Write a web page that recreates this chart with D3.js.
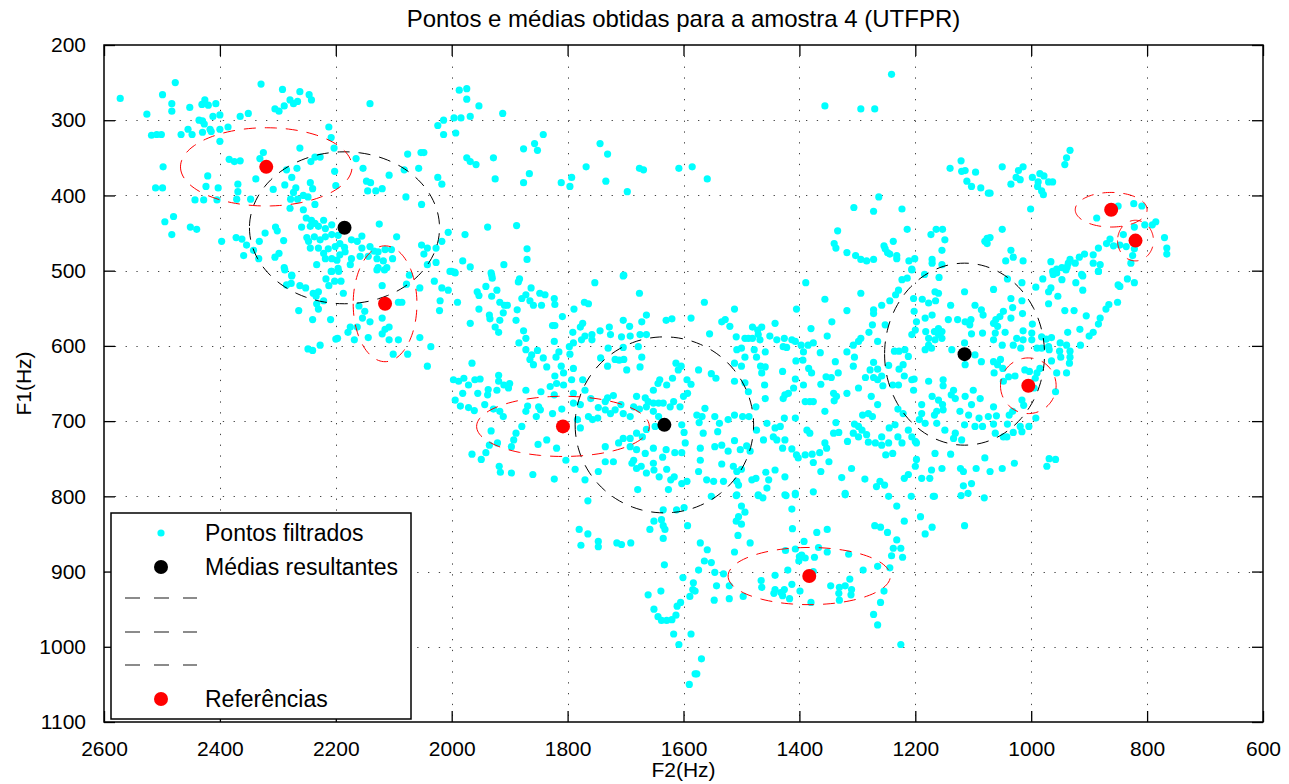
<!DOCTYPE html>
<html lang="pt">
<head>
<meta charset="UTF-8">
<title>Pontos e médias obtidas para a amostra 4 (UTFPR)</title>
<script src="https://d3js.org/d3.v7.min.js"></script>
<style>
  body { margin: 0; background: #fff; }
  text { font-family: "Liberation Sans", Arial, Helvetica, sans-serif; fill: #000; }
</style>
</head>
<body>
<div id="chart"></div>
<script>
// F2 / F1 em Hz
const pontos = [
  [2572,271],[2477,250],[2499,266],[2483,278],[2483,288],[2526,292],[2452,283],[2426,273],[2431,279],[2420,280],
  [2407,278],[2412,295],[2400,293],[2365,295],[2351,291],[2329,252],[2292,259],[2262,262],[2279,273],[2273,278],
  [2266,275],[2246,266],[2242,273],[2305,285],[2298,288],[2289,281],[2141,278],[2518,320],[2509,319],[2501,319],
  [2467,319],[2455,312],[2448,319],[2436,300],[2430,301],[2427,305],[2430,316],[2417,312],[2415,315],[2400,312],
  [2386,309],[2400,328],[2212,309],[2208,323],[2203,337],[2498,362],[2511,390],[2499,390],[2421,374],[2424,388],
  [2403,390],[2384,352],[2375,355],[2365,354],[2331,351],[2325,343],[2338,378],[2369,385],[2369,395],[2371,405],
  [2405,406],[2428,406],[2443,406],[2347,405],[2308,392],[2285,366],[2267,364],[2276,376],[2288,386],[2262,337],
  [2236,349],[2227,349],[2243,355],[2202,368],[2200,387],[2244,383],[2240,391],[2269,390],[2273,396],[2278,405],
  [2266,405],[2256,400],[2248,402],[2236,412],[2279,417],[2256,419],[2251,430],[2242,433],[2236,437],[2221,433],
  [2259,442],[2244,441],[2230,441],[2218,444],[2207,439],[2165,351],[2153,364],[2147,381],[2140,383],[2108,373],
  [2145,394],[2131,394],[2120,391],[2125,438],[2495,435],[2480,428],[2483,452],[2451,442],[2440,445],[2397,461],
  [2372,456],[2362,458],[2354,466],[2342,473],[2359,480],[2332,461],[2322,450],[2304,442],[2301,447],[2290,460],
  [2298,477],[2305,482],[2333,484],[2289,496],[2276,506],[2250,456],[2244,470],[2247,461],[2237,455],[2227,459],
  [2218,455],[2207,452],[2196,453],[2230,470],[2221,477],[2213,471],[2201,468],[2193,464],[2185,469],[2173,459],
  [2163,461],[2155,454],[2155,470],[2141,468],[2134,474],[2127,475],[2115,472],[2104,472],[2095,455],[2233,492],
  [2218,484],[2207,484],[2198,486],[2193,479],[2184,475],[2173,484],[2158,481],[2144,481],[2129,484],[2118,487],
  [2102,484],[2207,501],[2196,497],[2175,492],[2127,496],[2112,496],
  [1987,260],[1974,258],[1974,272],[1953,281],[1912,291],[1996,297],[1984,297],[1968,295],[2014,300],[2024,307],
  [2014,319],[1993,317],[2076,345],[2053,343],[2048,343],[2057,364],[2082,366],[1974,350],[1968,355],[1958,359],
  [1928,350],[1925,378],[1876,338],[1857,331],[1852,340],[1842,319],[1866,371],[1876,383],[2024,376],[2017,385],
  [2079,402],[2052,412],[1811,383],[1793,376],[1796,388],[1768,362],[1744,331],[1731,345],[1734,381],[1697,395],
  [1676,364],[1669,366],[1608,364],[1585,362],[2006,449],[1977,452],[1938,442],[1888,440],[2017,461],[2052,466],
  [2042,470],[2027,470],[2048,478],[2027,489],[2042,492],[1981,487],[1968,495],[1910,492],[1870,471],[1870,485],
  [2003,501],[1995,502],[1932,503],[1703,506],
  [1241,239],[1356,281],[1294,285],[1270,285],[1559,378],[1140,364],[1121,354],[1120,368],[1114,367],[1096,369],
  [1111,381],[1103,388],[1087,390],[1074,397],[1263,402],[1306,416],[1272,421],[1223,418],[1334,447],[1340,464],
  [1337,470],[1318,476],[1303,480],[1294,485],[1284,487],[1272,485],[1254,467],[1252,471],[1248,476],[1244,478],
  [1238,461],[1232,480],[1232,484],[1214,445],[1211,487],[1201,484],[1206,498],[1173,452],[1164,445],[1153,445],
  [1149,459],[1154,473],[1171,485],[1171,490],[1154,492],[1080,461],[1076,457],[1076,464],
  [933,340],[939,350],[942,359],[1050,362],[1014,362],[1022,367],[1026,376],[1019,379],[1035,385],[998,376],
  [985,371],[978,374],[988,382],[989,388],[982,394],[979,399],[970,382],[963,382],[1071,397],[1001,418],
  [1050,445],[850,414],[823,411],[809,414],[887,430],[822,442],[804,439],[791,439],[785,435],[770,456],
  [766,470],[766,478],[841,452],[864,458],[870,464],[858,467],[847,466],[836,468],[822,471],[825,480],
  [828,490],[884,470],[893,479],[908,478],[917,482],[933,485],[924,490],[936,490],[938,495],[893,490],
  [881,492],[884,501],[947,496],[956,498],[963,501],[966,488],[913,505],[1035,473],[1031,482],[1044,487],
  [1014,487],[1071,456],
  [2288,499],[2276,507],[2277,517],[2285,519],[2262,520],[2252,523],[2239,530],[2230,528],[2234,534],[2233,544],
  [2221,540],[2230,551],[2264,553],[2240,565],[2209,565],[2217,511],[2212,520],[2202,514],[2191,514],[2208,501],
  [2195,501],[2187,530],[2160,547],[2150,554],[2154,563],[2141,568],[2175,575],[2163,575],[2179,582],[2197,590],
  [2200,591],[2168,592],[2144,589],[2120,520],[2120,563],[2115,578],[2108,575],[2120,584],[2108,592],[2092,592],
  [2092,542],[2101,611],[2248,604],[2240,606],[2227,599],[2129,499],[2116,499],
  [2073,506],[2078,518],[2055,523],[2030,514],[2017,523],[2006,526],[2000,501],[1994,503],[2020,540],[2021,553],
  [1990,542],[1968,570],[2086,542],[2055,589],[2076,611],[2036,601],[2042,627],[1956,528],[1953,533],[1941,521],
  [1931,506],[1930,510],[1922,526],[1931,534],[1917,542],[1909,546],[1904,546],[1911,556],[1935,559],[1934,564],
  [1917,566],[1953,551],[1925,575],[1919,582],[1887,552],[1885,515],[1883,511],[1879,537],[1872,532],[1863,523],
  [1865,540],[1859,546],[1848,530],[1839,532],[1845,546],[1823,537],[1822,545],[1809,561],[1826,573],[1822,573],
  [1889,566],[1876,580],[1872,590],[1884,596],[1872,605],[1862,612],[1852,606],[1842,616],[1865,618],[1859,625],
  [1836,628],[1823,594],[1815,608],[1820,615],[1811,627],[1807,636],[1822,640],[1796,611],[1789,551],[1771,542],
  [1764,544],[1774,570],[1753,516],[1704,507],[1676,530],[1664,559],[1672,568],[1704,566],[1693,574],[1675,585],
  [1664,585],[1630,566],[1620,564],[1587,563],[1791,582],[1778,575],[1770,587],[1758,585],[1776,592],[1790,596],
  [1758,592],[1744,580],[1728,575],[1726,585],[1743,616],[1730,603],[1707,588],[1692,587],[1704,602],[1678,601],
  [1718,618],[1703,618],[1731,627],[1698,632],[1711,619],[1672,615],[1675,628],[1797,601],[1790,630],[1774,645],
  [1793,645],[1997,645],[1988,647],[1979,643],[1971,652],[1960,645],[1951,644],[1965,623],[1919,639],[1919,647],
  [1910,652],[1900,650],[1902,656],[1937,658],[1938,665],[1922,659],[1955,663],[1981,663],[1994,672],[1985,680],
  [1971,682],[1961,686],[1943,678],[1928,684],[1917,687],[1911,694],[1872,659],[1846,661],[1869,680],[1850,681],
  [1847,685],[1872,687],[1854,694],[1830,654],[1819,650],[1807,652],[1823,665],[1826,690],[1810,684],[1790,663],
  [1790,676],[1778,678],[1783,698],[1778,709],[1770,659],[1764,694],[1757,698],[1748,696],[1760,670],[1747,682],
  [1735,674],[1731,669],[1721,666],[1735,685],[1726,690],[1718,685],[1704,690],[1692,694],[1686,681],[1676,684],
  [1708,678],[1681,667],[1666,669],[1661,674],[1652,659],[1644,650],[1641,645],[1629,652],[1619,643],[1613,623],
  [1609,632],[1604,627],[1594,645],[1587,651],[1652,676],[1664,681],[1643,676],[1635,676],[1623,681],[1617,674],
  [1606,681],[1600,667],[1593,663],[1652,687],[1643,694],[1649,707],[1638,707],[1603,705],[1599,715],[1597,729],
  [1603,742],[1615,742],[1630,738],[1636,748],[1652,736],[1666,743],[1671,721],[1664,711],[1681,716],[1692,723],
  [1704,723],[1712,729],[1692,734],[1681,738],[1686,752],[1681,763],[1689,756],[1673,760],[1664,769],[1652,756],
  [1651,765],[1642,774],[1629,764],[1622,778],[1616,774],[1626,791],[1603,783],[1594,780],[1679,791],[1735,734],
  [1735,754],[1721,754],[1747,767],[1770,778],[1787,764],[1823,777],[1860,771],[1897,769],[1916,768],[1918,760],
  [1949,751],[1965,744],[1941,742],[1935,732],[1921,729],[1932,713],[1897,734],[1893,725],[1889,716],[1879,707],
  [1851,731],[1836,725],[1819,736],[1803,752],
  [1206,499],[1389,516],[1356,538],[1564,542],[1512,551],[1405,551],[1318,553],[1294,530],[1258,546],[1244,540],
  [1234,532],[1229,526],[1223,512],[1214,510],[1184,505],[1159,509],[1534,568],[1528,565],[1520,574],[1555,584],
  [1442,570],[1380,577],[1344,568],[1272,552],[1272,557],[1274,572],[1280,582],[1252,572],[1265,594],[1294,590],
  [1298,594],[1307,599],[1481,575],[1472,579],[1465,575],[1509,588],[1494,590],[1488,590],[1471,585],[1468,592],
  [1481,590],[1451,587],[1439,592],[1426,590],[1413,592],[1407,594],[1397,599],[1385,599],[1376,596],[1352,587],
  [1508,605],[1500,603],[1494,615],[1478,605],[1474,615],[1459,608],[1428,601],[1422,602],[1393,608],[1394,619],
  [1364,609],[1574,632],[1552,637],[1544,643],[1512,623],[1500,627],[1512,647],[1467,627],[1459,628],[1465,636],
  [1429,634],[1406,620],[1407,644],[1410,656],[1384,630],[1379,636],[1393,652],[1460,652],[1494,649],[1488,661],
  [1338,621],[1333,636],[1345,642],[1354,641],[1363,651],[1318,608],[1305,615],[1307,627],[1298,656],[1286,642],
  [1278,632],[1272,622],[1265,631],[1272,642],[1265,645],[1258,640],[1246,626],[1236,607],[1228,607],[1218,605],
  [1212,614],[1221,625],[1228,631],[1219,640],[1206,645],[1202,644],[1203,659],[1229,652],[1239,652],[1256,653],
  [1276,667],[1265,678],[1281,690],[1291,692],[1274,694],[1305,704],[1298,707],[1292,712],[1307,716],[1298,721],
  [1284,718],[1281,728],[1269,729],[1258,721],[1258,732],[1246,729],[1245,709],[1235,705],[1230,684],[1221,690],
  [1230,721],[1223,729],[1212,712],[1206,721],[1198,729],[1251,745],[1239,743],[1317,727],[1337,702],[1341,716],
  [1332,715],[1356,729],[1353,736],[1349,754],[1365,742],[1378,744],[1390,745],[1405,745],[1402,749],[1413,737],
  [1425,725],[1429,736],[1439,725],[1445,721],[1433,707],[1426,696],[1407,696],[1387,712],[1382,716],[1390,674],
  [1382,674],[1376,674],[1356,687],[1340,673],[1336,667],[1341,663],[1318,663],[1425,665],[1428,670],[1419,663],
  [1459,670],[1475,681],[1498,694],[1487,694],[1512,692],[1523,698],[1546,694],[1563,683],[1568,694],[1577,692],
  [1573,702],[1566,716],[1538,703],[1541,714],[1512,726],[1546,734],[1534,732],[1502,738],[1491,733],[1485,740],
  [1474,712],[1462,725],[1456,703],[1442,709],[1571,736],[1571,752],[1574,767],[1534,757],[1523,740],[1514,760],
  [1508,767],[1500,764],[1560,778],[1548,780],[1531,780],[1508,780],[1505,785],[1482,778],[1475,776],[1458,768],
  [1453,778],[1442,765],[1425,774],[1376,755],[1363,767],[1327,775],[1310,763],[1287,777],[1261,780],[1253,785],
  [1219,776],[1212,771],[1200,760],[1198,751],[1189,776],[1175,776],[1172,765],[1166,743],[1154,763],[1139,744],
  [1122,763],[1117,767],[1095,763],[1080,749],[1117,786],[1103,783],[1109,796],[1169,800],[1246,800],[1267,787],
  [1321,796],[1376,794],[1407,796],[1425,798],[1456,789],[1471,798],[1508,798],
  [1203,537],[1202,554],[1198,568],[1200,579],[1206,585],[1188,538],[1177,543],[1166,528],[1160,530],[1165,540],
  [1171,559],[1183,563],[1182,581],[1177,590],[1167,581],[1160,585],[1154,581],[1166,592],[1154,590],[1177,599],
  [1172,603],[1160,577],[1143,565],[1139,546],[1115,528],[1127,565],[1114,568],[1104,565],[1106,572],[1103,584],
  [1097,546],[1086,552],[1083,559],[1084,583],[1115,596],[1137,605],[1114,625],[1097,612],[1086,621],[1183,605],
  [1152,645],[1152,653],[1134,659],[1177,647],[1171,667],[1160,672],[1153,678],[1152,685],[1163,687],[1167,692],
  [1138,665],[1131,670],[1114,667],[1100,659],[1088,670],[1103,678],[1123,687],[1108,692],[1090,696],[1074,694],
  [1189,678],[1189,690],[1193,698],[1183,703],[1163,703],[1149,712],[1131,716],[1115,705],[1097,707],[1084,707],
  [1120,725],[1134,723],[1200,727],
  [1041,511],[1065,525],[1016,516],[992,522],[980,511],[970,528],[966,523],[962,505],[956,503],[947,512],
  [940,499],[923,516],[911,507],[911,526],[884,501],[850,519],[847,521],[834,511],[822,516],[851,542],
  [866,545],[871,551],[881,563],[884,571],[893,582],[900,587],[905,560],[916,578],[926,553],[942,553],
  [954,534],[970,544],[998,571],[1015,557],[1016,540],[1035,537],[1032,549],[1048,554],[1054,561],[1061,565],
  [1035,563],[1065,570],[1058,574],[1045,582],[1062,583],[1065,592],[1050,599],[1031,599],[1025,590],[1014,580],
  [1014,592],[999,583],[999,592],[990,603],[982,603],[982,588],[974,591],[970,601],[965,589],[969,605],
  [950,596],[939,599],[951,607],[933,607],[949,615],[933,615],[934,623],[965,620],[956,636],[939,636],
  [937,582],[915,599],[1018,603],[1065,621],[1053,618],[1058,625],[1049,630],[1064,636],[1039,641],[1028,640],
  [1048,647],[1011,632],[1003,634],[993,643],[990,636],[985,630],[995,656],[958,661],[1016,672],[1013,679],
  [1065,681],[1060,693],[1038,692],[1032,687],[992,696],[1065,704],[1041,704],[1062,716],[1048,721],[1042,721],
  [1031,715],[1019,707],[1016,714],[1004,707],[969,750],[958,751],[973,760],[1029,756],[1050,763],[1071,767],
  [1765,806],[1780,844],[1765,850],[1777,865],[1747,860],[1747,867],[1715,862],[1707,864],[1691,862],[1658,844],
  [1651,833],[1638,831],[1635,839],[1632,844],[1635,856],[1635,818],[1612,818],[1599,815],[1593,839],[1633,891],
  [1601,908],[1639,926],[1661,931],[1651,950],[1644,960],[1638,965],[1629,965],[1620,964],[1613,958],[1611,946],
  [1605,941],[1589,933],[1583,915],[1584,924],[1617,983],[1608,997],[1587,983],[1580,1036],[1590,1050],
  [1552,800],[1509,799],[1471,799],[1463,802],[1423,799],[1407,798],[1321,798],[1207,800],[1167,800],[1121,799],
  [1081,802],[1500,813],[1494,821],[1505,827],[1509,833],[1500,837],[1506,852],[1413,817],[1412,843],[1370,848],
  [1352,844],[1571,862],[1559,871],[1512,874],[1485,862],[1564,886],[1552,888],[1574,898],[1546,901],[1531,903],
  [1521,919],[1543,919],[1580,926],[1547,938],[1521,936],[1497,933],[1466,912],[1465,921],[1442,905],[1442,924],
  [1444,929],[1432,928],[1426,924],[1429,932],[1417,936],[1413,917],[1420,898],[1424,872],[1407,870],[1400,880],
  [1401,886],[1396,878],[1392,860],[1390,882],[1376,900],[1399,926],[1380,941],[1374,881],[1367,868],[1352,874],
  [1346,919],[1331,921],[1321,919],[1332,929],[1313,910],[1310,924],[1311,931],[1331,938],[1315,877],[1290,898],
  [1270,839],[1260,841],[1248,848],[1232,813],[1219,833],[1232,858],[1238,869],[1225,869],[1241,879],[1222,881],
  [1265,893],[1244,895],[1254,926],[1260,941],[1272,957],[1265,971],[1225,997],[1191,827],[1171,841],[1183,850],
  [1115,839],[1569,1016],[1577,1036]
];

// médias resultantes (F2, F1)
const medias = [[2185, 443], [1633, 705], [1115, 611]];
// referências (F2, F1)
const referencias = [[2320, 362], [2115, 544], [1808, 707], [1383, 906], [1005, 653], [862, 419], [820, 460]];

// elipses: centro F2, centro F1, semi-eixo F2, semi-eixo F1
const elipsesMedias = [[2185, 443, 164, 101], [1633, 705, 154, 117], [1115, 611, 138, 121]];
const elipsesRefs = [[2320, 362, 148, 52], [2115, 544, 55, 77], [1808, 707, 149, 40], [1383, 906, 140, 38],
                     [1005, 653, 48, 37], [862, 419, 62, 23], [820, 460, 31, 27]];

const xTicks = [2600, 2400, 2200, 2000, 1800, 1600, 1400, 1200, 1000, 800, 600];
const yTicks = [200, 300, 400, 500, 600, 700, 800, 900, 1000, 1100];

const legenda = [
  { label: "Pontos filtrados", tipo: "ponto", cor: "#00ffff" },
  { label: "Médias resultantes", tipo: "media", cor: "#000000" },
  { label: "", tipo: "linha", cor: "#666666" },
  { label: "", tipo: "linha", cor: "#666666" },
  { label: "", tipo: "linha", cor: "#666666" },
  { label: "Referências", tipo: "media", cor: "#ff0000" }
];

const W = 1289, H = 784;
const mLeft = 104, mRight = 1263, mTop = 45, mBottom = 722;

const svg = d3.select("#chart").append("svg")
  .attr("width", W).attr("height", H);

svg.append("rect").attr("width", W).attr("height", H).attr("fill", "#fff");

const x = d3.scaleLinear().domain([2600, 600]).range([mLeft, mRight]);
const y = d3.scaleLinear().domain([200, 1100]).range([mTop, mBottom]);

// grade pontilhada
const grid = svg.append("g").attr("stroke", "#444").attr("stroke-width", 1).attr("stroke-dasharray", "1.3,9.5");
grid.selectAll(".gx").data(xTicks.slice(1, -1)).enter().append("line")
  .attr("x1", d => Math.round(x(d)) + 0.5).attr("x2", d => Math.round(x(d)) + 0.5)
  .attr("y1", mTop).attr("y2", mBottom);
grid.selectAll(".gy").data(yTicks.slice(1, -1)).enter().append("line")
  .attr("y1", d => Math.round(y(d)) + 0.5).attr("y2", d => Math.round(y(d)) + 0.5)
  .attr("x1", mLeft).attr("x2", mRight);

// pontos filtrados
svg.append("g").selectAll("circle").data(pontos).enter().append("circle")
  .attr("cx", d => x(d[0])).attr("cy", d => y(d[1])).attr("r", 3.6)
  .attr("fill", "#00ffff");

// elipses tracejadas
const elipse = e => d3.line()(d3.range(0, 361, 3).map(a => {
  const t = a * Math.PI / 180;
  return [x(e[0] + e[2] * Math.cos(t)), y(e[1] + e[3] * Math.sin(t))];
}));

svg.append("g").selectAll("path").data(elipsesMedias).enter().append("path")
  .attr("d", elipse).attr("fill", "none").attr("stroke", "#000")
  .attr("stroke-width", 1).attr("stroke-dasharray", "12,9");

svg.append("g").selectAll("path").data(elipsesRefs).enter().append("path")
  .attr("d", elipse).attr("fill", "none").attr("stroke", "#ff0000")
  .attr("stroke-width", 1).attr("stroke-dasharray", "12,9");

// médias e referências
svg.append("g").selectAll("circle").data(medias).enter().append("circle")
  .attr("cx", d => x(d[0])).attr("cy", d => y(d[1])).attr("r", 7).attr("fill", "#000");
svg.append("g").selectAll("circle").data(referencias).enter().append("circle")
  .attr("cx", d => x(d[0])).attr("cy", d => y(d[1])).attr("r", 7).attr("fill", "#ff0000");

// eixos (estilo MATLAB: ticks para dentro nos quatro lados)
const tk = 11;
const fmt = d3.format("d");
const axB = d3.axisBottom(x).tickValues(xTicks).tickSize(-tk).tickPadding(tk + 8).tickFormat(fmt);
const axT = d3.axisTop(x).tickValues(xTicks).tickSize(-tk).tickFormat("");
const axL = d3.axisLeft(y).tickValues(yTicks).tickSize(-tk).tickPadding(tk + 7).tickFormat(fmt);
const axR = d3.axisRight(y).tickValues(yTicks).tickSize(-tk).tickFormat("");

const estilo = g => {
  g.select(".domain").remove();
  g.selectAll("line").attr("stroke", "#000").attr("stroke-width", 1.3);
  g.selectAll("text").style("font-size", "21px").style("font-family", '"Liberation Sans", Arial, sans-serif');
};
svg.append("g").attr("transform", `translate(0,${mBottom})`).call(axB).call(estilo);
svg.append("g").attr("transform", `translate(0,${mTop})`).call(axT).call(estilo);
svg.append("g").attr("transform", `translate(${mLeft},0)`).call(axL).call(estilo);
svg.append("g").attr("transform", `translate(${mRight},0)`).call(axR).call(estilo);

svg.append("rect").attr("x", mLeft).attr("y", mTop)
  .attr("width", mRight - mLeft).attr("height", mBottom - mTop)
  .attr("fill", "none").attr("stroke", "#000").attr("stroke-width", 1.5);

// títulos
svg.append("text").attr("x", (mLeft + mRight) / 2).attr("y", 27)
  .attr("text-anchor", "middle").style("font-size", "24px")
  .text("Pontos e médias obtidas para a amostra 4 (UTFPR)");
svg.append("text").attr("x", (mLeft + mRight) / 2).attr("y", 777)
  .attr("text-anchor", "middle").style("font-size", "21px").text("F2(Hz)");
svg.append("text").attr("transform", `translate(31,${(mTop + mBottom) / 2}) rotate(-90)`)
  .attr("text-anchor", "middle").style("font-size", "21px").text("F1(Hz)");

// legenda
const lg = svg.append("g").attr("transform", "translate(111,513)");
lg.append("rect").attr("width", 300).attr("height", 206)
  .attr("fill", "#fff").attr("stroke", "#000").attr("stroke-width", 1.5);
const linhaY = [20, 54, 85, 119, 152, 186];
const itens = lg.selectAll(".item").data(legenda).enter().append("g")
  .attr("transform", (d, i) => `translate(0,${linhaY[i]})`);
itens.filter(d => d.tipo === "ponto").append("circle")
  .attr("cx", 50).attr("r", 3.6).attr("fill", d => d.cor);
itens.filter(d => d.tipo === "media").append("circle")
  .attr("cx", 50).attr("r", 7).attr("fill", d => d.cor);
itens.filter(d => d.tipo === "linha").append("line")
  .attr("x1", 14).attr("x2", 86).attr("stroke", d => d.cor)
  .attr("stroke-width", 1.5).attr("stroke-dasharray", "15,14");
itens.append("text").attr("x", 94).attr("dy", "0.36em")
  .style("font-size", "23px").text(d => d.label);
</script>
</body>
</html>
